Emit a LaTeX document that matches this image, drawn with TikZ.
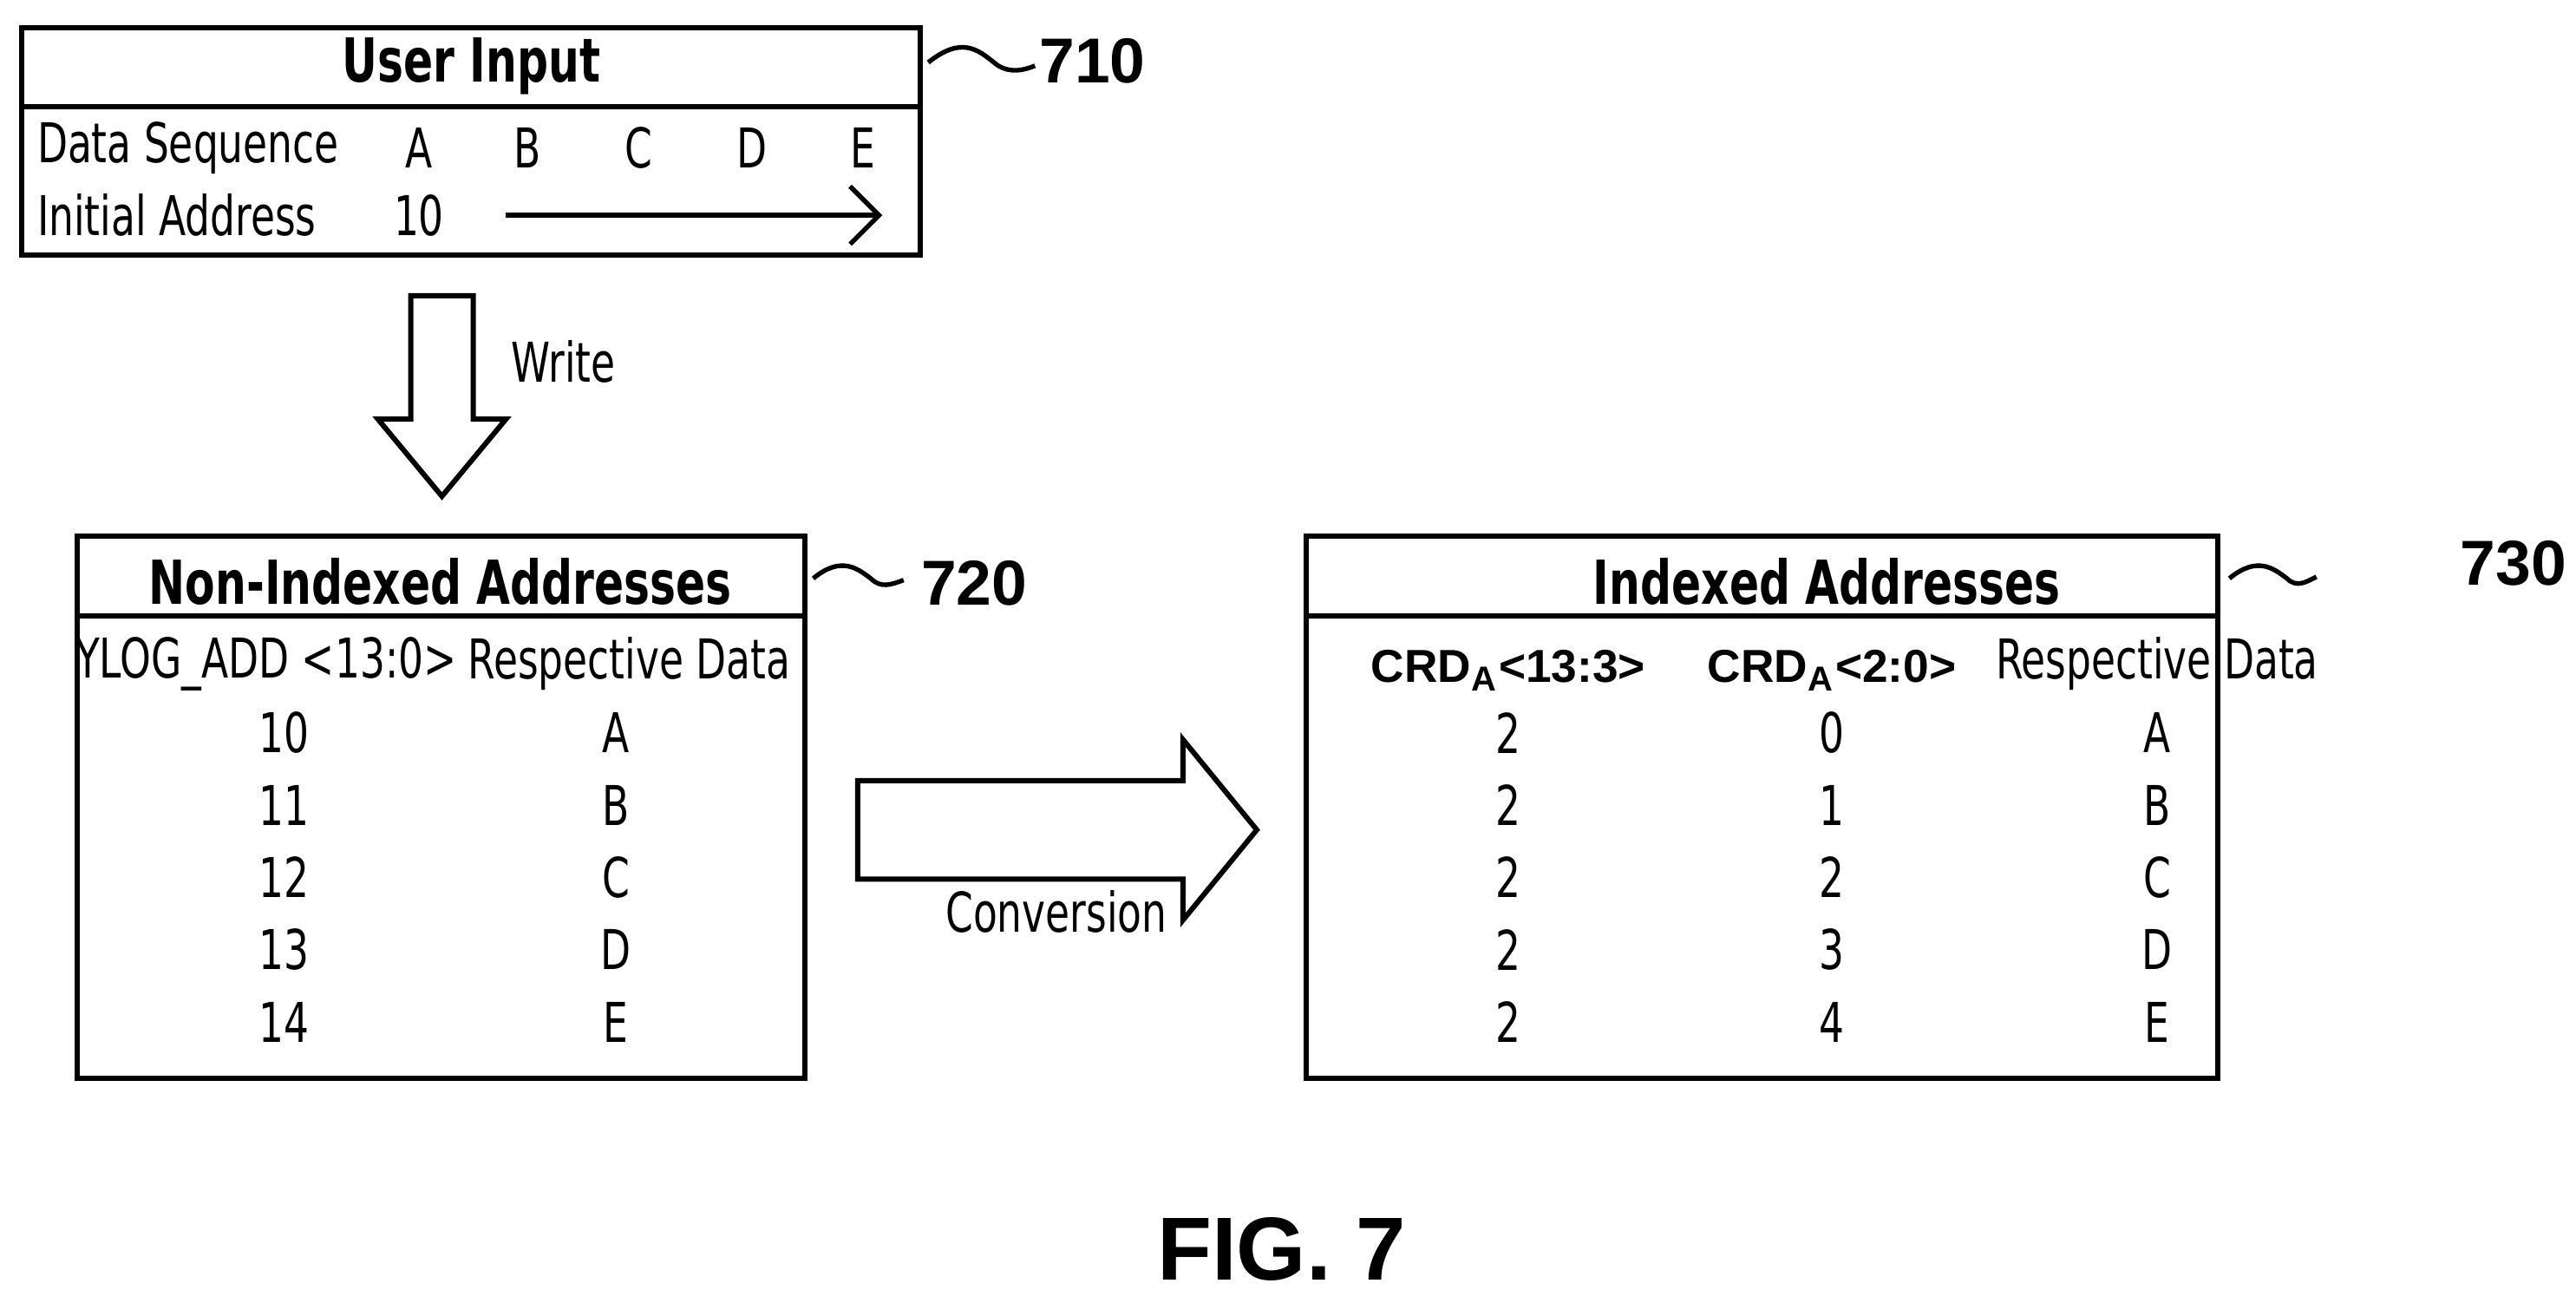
\documentclass[tikz,border=0pt]{standalone}
\usepackage{fontspec}
\setmainfont[FakeStretch=0.8]{DejaVu Sans Condensed}
\newfontfamily\arialfont{Liberation Sans}
\usetikzlibrary{positioning,arrows.meta}

\tikzset{
  cell/.style={inner sep=0pt, font=\fontsize{9.5}{11}\selectfont},
  head/.style={inner sep=0pt, font=\fontsize{10.5}{12}\selectfont\bfseries},
  refnum/.style={inner sep=0pt, font=\arialfont\fontsize{11}{13}\selectfont\bfseries},
  frame/.style={draw, line width=0.9pt},
  squig/.style={line width=0.8pt},
  hollow/.style={draw, line width=0.9pt, fill=white}
}

\begin{document}
\begin{tikzpicture}
\useasboundingbox (0,0) rectangle (15.68,-7.925);

% box 710
\draw[frame] (0.13,-0.17) rectangle (5.60,-1.55);
\draw[frame] (0.13,-0.65) -- (5.60,-0.65);
\node[head] (uin) at (2.87,-0.40) {User Input};
\node[cell, anchor=west] (dseq) at (0.22,-0.90) {Data Sequence};
\node[cell, anchor=west] (iadd) at (0.22,-1.31) {Initial Address};
\foreach \l/\x in {A/2.55,B/3.21,C/3.89,D/4.58,E/5.25}
  \node[cell] (d\l) at (\x,-0.90) {\l};
\node[cell] (ten) at (2.55,-1.31) {10};
\coordinate (arrS) at (3.08,-1.31);
\coordinate (arrE) at (5.37,-1.31);
\draw[-{Straight Barb[length=5pt]}, line width=0.8pt] (arrS) -- (arrE);

% reference 710
\node[refnum] (n710) at (6.65,-0.37) {710};
\draw[squig] (5.65,-0.38) .. controls (5.85,-0.22) and (5.95,-0.30) .. (6.05,-0.38)
  .. controls (6.12,-0.44) and (6.20,-0.44) .. (6.30,-0.40);

% write arrow
\draw[hollow] (2.50,-1.80) -- (2.88,-1.80) -- (2.88,-2.55) -- (3.08,-2.55)
  -- (2.69,-3.02) -- (2.30,-2.55) -- (2.50,-2.55) -- cycle;
\node[cell] (wr) at (3.43,-2.20) {Write};

% box 720
\draw[frame] (0.47,-3.26) rectangle (4.90,-6.56);
\draw[frame] (0.47,-3.75) -- (4.90,-3.75);
\node[head] (nia) at (2.68,-3.54) {Non-Indexed Addresses};
\node[cell] (ylog) at (1.62,-4.04) {YLOG\_ADD <13:0>};
\node[cell] (resp) at (3.83,-4.04) {Respective Data};
\foreach \a/\l/\y in {10/A/4.46,11/B/4.90,12/C/5.34,13/D/5.78,14/E/6.22}{
  \node[cell] (na\a) at (1.73,-\y) {\a};
  \node[cell] (nd\a) at (3.75,-\y) {\l};
}
\node[refnum] (n720) at (5.93,-3.55) {720};
\draw[squig] (4.95,-3.52) .. controls (5.12,-3.38) and (5.22,-3.46) .. (5.30,-3.52)
  .. controls (5.36,-3.58) and (5.42,-3.56) .. (5.50,-3.53);

% conversion arrow
\draw[hollow] (5.22,-4.75) -- (7.20,-4.75) -- (7.20,-4.50) -- (7.65,-5.05)
  -- (7.20,-5.60) -- (7.20,-5.35) -- (5.22,-5.35) -- cycle;
\node[cell] (conv) at (6.43,-5.55) {Conversion};

% box 730
\draw[frame] (7.95,-3.26) rectangle (13.50,-6.56);
\draw[frame] (7.95,-3.75) -- (13.50,-3.75);
\node[head] (ia) at (11.12,-3.54) {Indexed Addresses};
\node[inner sep=0pt, font=\arialfont\fontsize{8}{10}\selectfont\bfseries] (crdh) at (9.18,-4.08) {CRD\textsubscript{A}<13:3>};
\node[inner sep=0pt, font=\arialfont\fontsize{8}{10}\selectfont\bfseries] (crdl) at (11.15,-4.08) {CRD\textsubscript{A}<2:0>};
\node[cell] (resp2) at (13.13,-4.04) {Respective Data};
\foreach \i/\l/\y in {0/A/4.46,1/B/4.90,2/C/5.34,3/D/5.78,4/E/6.22}{
  \node[cell] (ih\i) at (9.18,-\y) {2};
  \node[cell] (il\i) at (11.15,-\y) {\i};
  \node[cell] (id\i) at (13.13,-\y) {\l};
}
\node[refnum] (n730) at (15.30,-3.43) {730};
\draw[squig] (13.57,-3.52) .. controls (13.74,-3.38) and (13.84,-3.46) .. (13.92,-3.52)
  .. controls (13.98,-3.58) and (14.04,-3.54) .. (14.10,-3.51);

% figure label
\node[inner sep=0pt, font=\arialfont\fontsize{15.5}{18}\selectfont\bfseries] (fig) at (7.80,-7.60) {FIG. 7};
\end{tikzpicture}
\end{document}
